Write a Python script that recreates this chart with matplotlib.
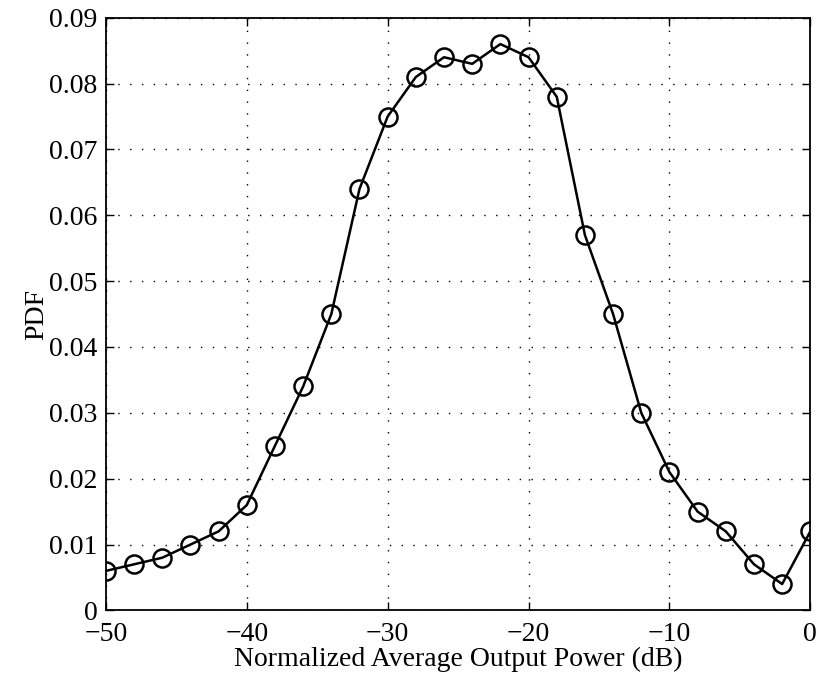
import matplotlib
matplotlib.use("Agg")
import matplotlib.pyplot as plt

x_db = [-50, -48, -46, -44, -42, -40, -38, -36, -34, -32, -30, -28, -26,
        -24, -22, -20, -18, -16, -14, -12, -10, -8, -6, -4, -2, 0]
pdf = [0.006, 0.007, 0.008, 0.010, 0.012, 0.016, 0.025, 0.034, 0.045, 0.064,
       0.075, 0.081, 0.084, 0.083, 0.086, 0.084, 0.078, 0.057, 0.045, 0.030,
       0.021, 0.015, 0.012, 0.007, 0.004, 0.012]
xticks = [-50, -40, -30, -20, -10, 0]
xtick_labels = ["\u221250", "\u221240", "\u221230", "\u221220", "\u221210", "0"]
yticks = [0, 0.01, 0.02, 0.03, 0.04, 0.05, 0.06, 0.07, 0.08, 0.09]
ytick_labels = ["0", "0.01", "0.02", "0.03", "0.04", "0.05", "0.06", "0.07", "0.08", "0.09"]

plt.rcParams['font.family'] = ['Liberation Serif', 'DejaVu Serif']

fig = plt.figure(figsize=(8.21, 6.82), dpi=100)
ax = fig.add_axes([0.129, 0.105, 0.858, 0.869])
ax.plot(x_db, pdf, color='black', linewidth=1.8, marker='o', markersize=13,
        markerfacecolor='none', markeredgecolor='black', markeredgewidth=1.8)
ax.set_xlim(-50, 0)
ax.set_ylim(0, 0.09)
ax.set_xticks(xticks)
ax.set_xticklabels(xtick_labels)
ax.set_yticks(yticks)
ax.set_yticklabels(ytick_labels)
ax.tick_params(direction='in', top=True, right=True, labelsize=20, length=6, width=1)
ax.tick_params(axis='y', pad=6)
ax.tick_params(axis='x', pad=8)
ax.grid(True, linestyle=(0, (1, 7.5)), color='black', linewidth=1.0)
for s in ax.spines.values():
    s.set_linewidth(1.3)
ax.set_xlabel("Normalized Average Output Power (dB)", fontsize=20, labelpad=0)
ax.set_ylabel("PDF", fontsize=20, labelpad=0)
fig.savefig("out.png", dpi=100)
